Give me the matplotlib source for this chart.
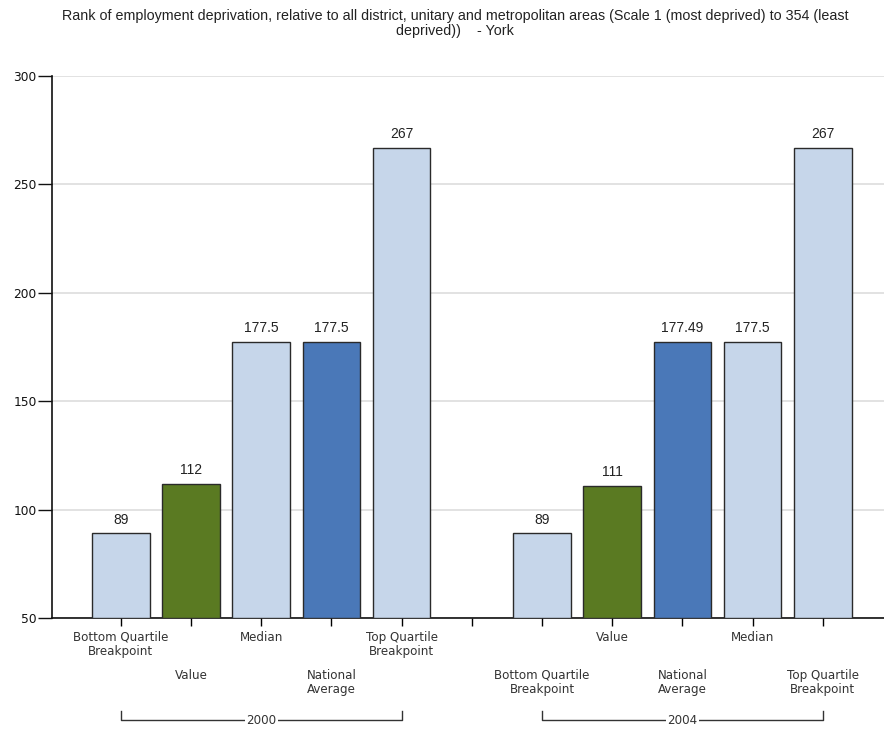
import matplotlib
matplotlib.use("Agg")
import matplotlib.pyplot as plt
from matplotlib.transforms import blended_transform_factory

# ---- data ----
groups = ["2000", "2004"]
cats_2000 = ["Bottom Quartile\nBreakpoint", "Value", "Median", "National\nAverage", "Top Quartile\nBreakpoint"]
vals_2000 = [89, 112, 177.5, 177.5, 267]
labels_2000 = ["89", "112", "177.5", "177.5", "267"]
cats_2004 = ["Bottom Quartile\nBreakpoint", "Value", "National\nAverage", "Median", "Top Quartile\nBreakpoint"]
vals_2004 = [89, 111, 177.49, 177.5, 267]
labels_2004 = ["89", "111", "177.49", "177.5", "267"]
title = ("Rank of employment deprivation, relative to all district, unitary and metropolitan areas (Scale 1 (most deprived) to 354 (least\n"
         "deprived))    - York")

LIGHT = "#c6d6ea"
GREEN = "#5a7a22"
BLUE = "#4a78b8"
def colour(cat):
    if cat == "Value":
        return GREEN
    if cat.startswith("National"):
        return BLUE
    return LIGHT

plt.rcParams["font.family"] = ["DejaVu Sans"]

W, H = 884, 729
fig = plt.figure(figsize=(W / 100, H / 100), dpi=100)
left, right, top, bottom = 52, 884, 76, 618
ax = fig.add_axes([left / W, 1 - bottom / H, (right - left) / W, (bottom - top) / H])

positions = []
cats = []
vals = []
labs = []
for i, (c, v, l) in enumerate(zip(cats_2000, vals_2000, labels_2000)):
    positions.append(i); cats.append(c); vals.append(v); labs.append(l)
for i, (c, v, l) in enumerate(zip(cats_2004, vals_2004, labels_2004)):
    positions.append(6 + i); cats.append(c); vals.append(v); labs.append(l)

ymin = 50
ax.bar(positions, [v - ymin for v in vals], bottom=ymin, width=0.82,
       color=[colour(c) for c in cats], edgecolor="#2a2a2a", linewidth=1.0, zorder=3)
for p, v, l in zip(positions, vals, labs):
    ax.text(p, v + 3, l, ha="center", va="bottom", fontsize=10, color="#222222",
            family=["Liberation Sans", "DejaVu Sans"])

ax.set_xlim(-0.98, 10.87)
ax.set_ylim(50, 300)
ax.set_yticks([50, 100, 150, 200, 250, 300])
ax.yaxis.grid(True, color="#dddddd", linewidth=1.2, zorder=0)
ax.set_axisbelow(True)
ax.tick_params(axis="y", length=10, width=1, labelsize=8.8, colors="#111111", pad=1)
ax.tick_params(axis="x", length=6, width=1, labelbottom=False)
ax.set_xticks(list(range(11)))
for s in ["top", "right"]:
    ax.spines[s].set_visible(False)
for s in ["left", "bottom"]:
    ax.spines[s].set_color("#111111")
    ax.spines[s].set_linewidth(1.2)

trans = blended_transform_factory(ax.transData, ax.transAxes)
def ax_y(px):
    return (bottom - px) / (bottom - top)

for k, (p, c) in enumerate(zip(positions, cats)):
    ypx = 631 if k % 2 == 0 else 669
    ax.text(p, ax_y(ypx), c, transform=trans, ha="center", va="top", fontsize=8.6,
            color="#333333", linespacing=1.1)

# group brackets
for g, (x0, x1) in zip(groups, [(0, 4), (6, 10)]):
    yb = ax_y(720)
    yt = ax_y(711)
    ax.plot([x0, x0, x1, x1], [yt, yb, yb, yt], transform=trans, color="#333333",
            linewidth=1, clip_on=False)
    ax.text((x0 + x1) / 2, yb, g, transform=trans, ha="center", va="center", fontsize=8.6,
            color="#333333", bbox=dict(facecolor="white", edgecolor="none", pad=1))

fig.text(455 / W, 1 - 9 / H, title, ha="center", va="top", fontsize=10.3, color="#222222",
         linespacing=1.1, family=["Liberation Sans", "DejaVu Sans"])

fig.savefig("out.png", dpi=100, facecolor="white")
